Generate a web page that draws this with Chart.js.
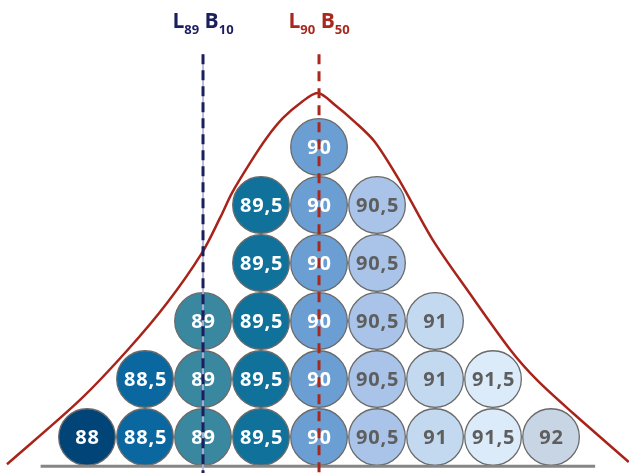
<!DOCTYPE html>
<html lang="en">
<head>
    <meta charset="UTF-8">
    <title>Distribution</title>
    <style>
        body { margin: 0; background: #fff; }
        #wrap { width: 629px; height: 473px; position: relative; }
    </style>
</head>
<body>
    <div id="wrap">
        <canvas id="dotChart"></canvas>
    </div>
    <script src="https://cdn.jsdelivr.net/npm/chart.js"></script>
    <script>
        // values and how many dots are stacked over each
        const categories = ['88', '88,5', '89', '89,5', '90', '90,5', '91', '91,5', '92'];
        const values = [88, 88.5, 89, 89.5, 90, 90.5, 91, 91.5, 92];
        const counts = [1, 2, 3, 5, 6, 5, 3, 2, 1];
        const dotColors = ['#004478', '#0a67a0', '#3a87a0', '#10729b', '#6b9fd4', '#a9c4e8', '#c3d9f0', '#dcebf9', '#c8d5e5'];

        // red curve (x in value units, y in dots)
        const curveX = [87.31, 87.94, 88.35, 88.69, 88.99, 89.15, 89.25, 89.41, 89.55, 89.69, 89.84, 89.99, 90.14, 90.31, 90.48, 90.70, 90.98, 91.28, 91.65, 91.88, 92.19, 92.67];
        const curveY = [0.03, 1.14, 2.00, 2.81, 3.67, 4.29, 4.71, 5.24, 5.66, 6.00, 6.26, 6.43, 6.22, 5.93, 5.59, 4.90, 3.90, 3.03, 2.00, 1.48, 0.91, 0.07];

        // marker lines
        const markers = [
            { value: 89, main: ['L', 'B'], sub: ['89', '10'], color: '#1b1f5e' },
            { value: 90, main: ['L', 'B'], sub: ['90', '50'], color: '#a8281e' }
        ];

        const dots = [];
        const dotLabels = [];
        const dotBg = [];
        const dotText = [];
        values.forEach((v, i) => {
            for (let k = 0; k < counts[i]; k++) {
                dots.push({ x: v, y: k + 0.5 });
                dotLabels.push(categories[i]);
                dotBg.push(dotColors[i]);
                dotText.push(v <= 90 ? '#ffffff' : '#5e5e5e');
            }
        });

        const curve = curveX.map((x, i) => ({ x: x, y: curveY[i] }));
        const lineTop = 7.1, lineBottom = -0.2;

        const dotLabelPlugin = {
            id: 'dotLabels',
            afterDatasetDraw(chart, args) {
                if (args.index !== 0) return;
                const ctx = chart.ctx;
                ctx.save();
                ctx.font = '700 20px "Open Sans"';
                ctx.textAlign = 'center';
                ctx.textBaseline = 'middle';
                ctx.letterSpacing = '0.8px';
                args.meta.data.forEach((pt, i) => {
                    ctx.fillStyle = dotText[i];
                    ctx.fillText(dotLabels[i], pt.x + 0.5, pt.y + 1);
                });
                ctx.restore();
            }
        };

        const headerPlugin = {
            id: 'headers',
            afterDraw(chart) {
                const ctx = chart.ctx;
                const xs = chart.scales.x;
                ctx.save();
                ctx.textBaseline = 'alphabetic';
                ctx.textAlign = 'left';
                markers.forEach(m => {
                    const bigFont = '700 21px "Open Sans"';
                    const smallFont = '700 13px "Open Sans"';
                    const parts = [
                        [m.main[0], bigFont, 28], [m.sub[0], smallFont, 34], [' ', bigFont, 28],
                        [m.main[1], bigFont, 28], [m.sub[1], smallFont, 34]
                    ];
                    let total = 0;
                    parts.forEach(p => { ctx.font = p[1]; total += ctx.measureText(p[0]).width; });
                    let x = xs.getPixelForValue(m.value) - total / 2;
                    ctx.fillStyle = m.color;
                    parts.forEach(p => {
                        ctx.font = p[1];
                        ctx.fillText(p[0], x, p[2]);
                        x += ctx.measureText(p[0]).width;
                    });
                });
                ctx.restore();
            }
        };

        const ctx = document.getElementById('dotChart').getContext('2d');
        new Chart(ctx, {
            type: 'scatter',
            data: {
                datasets: [
                    {
                        label: 'dots',
                        data: dots,
                        backgroundColor: dotBg,
                        borderColor: '#6a6a6a',
                        borderWidth: 1.3,
                        pointRadius: 28.3,
                        pointHoverRadius: 28.3,
                        order: 5
                    },
                    {
                        label: 'base',
                        type: 'line',
                        data: [{ x: 87.60, y: -0.005 }, { x: 92.38, y: -0.005 }],
                        borderColor: '#858585',
                        borderWidth: 3,
                        pointRadius: 0,
                        order: 4
                    },
                    {
                        label: 'curve',
                        type: 'line',
                        data: curve,
                        borderColor: '#a8241a',
                        borderWidth: 2.5,
                        pointRadius: 0,
                        tension: 0.3,
                        order: 3
                    },
                    {
                        label: 'guide',
                        type: 'line',
                        data: [{ x: 89, y: lineTop }, { x: 89, y: lineBottom }],
                        borderColor: '#b4b4d6',
                        borderWidth: 1,
                        pointRadius: 0,
                        order: 2
                    },
                    {
                        label: 'L89',
                        type: 'line',
                        data: [{ x: 89, y: lineTop }, { x: 89, y: lineBottom }],
                        borderColor: '#1b1f5e',
                        borderWidth: 3,
                        borderDash: [10, 6],
                        pointRadius: 0,
                        order: 1
                    },
                    {
                        label: 'L90',
                        type: 'line',
                        data: [{ x: 90, y: lineTop }, { x: 90, y: lineBottom }],
                        borderColor: '#a8281e',
                        borderWidth: 3,
                        borderDash: [10, 7],
                        pointRadius: 0,
                        order: 0
                    }
                ]
            },
            options: {
                responsive: true,
                maintainAspectRatio: false,
                animation: false,
                layout: { padding: 0, autoPadding: false },
                plugins: {
                    legend: { display: false },
                    tooltip: { enabled: false }
                },
                scales: {
                    x: { type: 'linear', min: 87.25, max: 92.672, display: false },
                    y: { type: 'linear', min: -0.12, max: 8.034, display: false }
                }
            },
            plugins: [dotLabelPlugin, headerPlugin]
        });
    </script>
</body>
</html>
